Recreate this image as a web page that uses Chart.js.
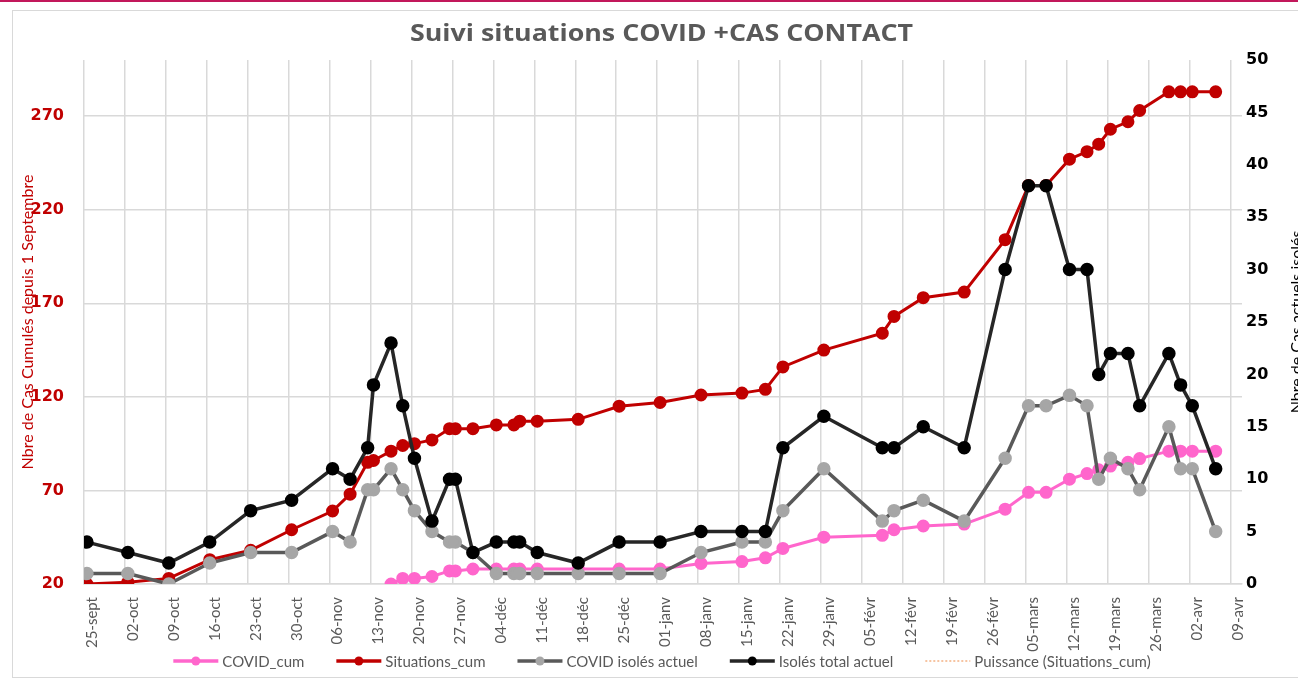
<!DOCTYPE html>
<html>
<head>
<meta charset="utf-8">
<script src="https://cdn.jsdelivr.net/npm/chart.js@4.4.0/dist/chart.umd.min.js"></script>
<style>
    html, body { margin: 0; padding: 0; background: #fff; }
    canvas { display: block; }
</style>
</head>
<body>
<canvas id="myChart" width="1298" height="680"></canvas>
<script>
// relevés (dates communes à toutes les séries)
const dates = [
    '2020-09-25', '2020-10-02', '2020-10-09', '2020-10-16', '2020-10-23', '2020-10-30',
    '2020-11-06', '2020-11-09', '2020-11-12', '2020-11-13', '2020-11-16', '2020-11-18',
    '2020-11-20', '2020-11-23', '2020-11-26', '2020-11-27', '2020-11-30', '2020-12-04',
    '2020-12-07', '2020-12-08', '2020-12-11', '2020-12-18', '2020-12-25', '2021-01-01',
    '2021-01-08', '2021-01-15', '2021-01-19', '2021-01-22', '2021-01-29', '2021-02-08',
    '2021-02-10', '2021-02-15', '2021-02-22', '2021-03-01', '2021-03-05', '2021-03-08',
    '2021-03-12', '2021-03-15', '2021-03-17', '2021-03-19', '2021-03-22', '2021-03-24',
    '2021-03-29', '2021-03-31', '2021-04-02', '2021-04-06'
];

const tickLabels = [
    '25-sept', '02-oct', '09-oct', '16-oct', '23-oct', '30-oct', '06-nov', '13-nov',
    '20-nov', '27-nov', '04-déc', '11-déc', '18-déc', '25-déc', '01-janv', '08-janv',
    '15-janv', '22-janv', '29-janv', '05-févr', '12-févr', '19-févr', '26-févr',
    '05-mars', '12-mars', '19-mars', '26-mars', '02-avr', '09-avr'
];
const leftTicks = [20, 70, 120, 170, 220, 270];
const rightTicks = [0, 5, 10, 15, 20, 25, 30, 35, 40, 45, 50];

const covidCum = [
    null, null, null, null, null, null, null, null, null, null, 20, 23,
    23, 24, 27, 27, 28, 28, 28, 28, 28, 28, 28, 28,
    31, 32, 34, 39, 45, 46, 49, 51, 52, 60, 69, 69,
    76, 79, 81, 83, 85, 87, 91, 91, 91, 91
];
const situationsCum = [
    20, 21, 23, 33, 38, 49, 59, 68, 85, 86, 91, 94,
    95, 97, 103, 103, 103, 105, 105, 107, 107, 108, 115, 117,
    121, 122, 124, 136, 145, 154, 163, 173, 176, 204, 233, 233,
    247, 251, 255, 263, 267, 273, 283, 283, 283, 283
];
const covidIsoles = [
    1, 1, 0, 2, 3, 3, 5, 4, 9, 9, 11, 9,
    7, 5, 4, 4, 3, 1, 1, 1, 1, 1, 1, 1,
    3, 4, 4, 7, 11, 6, 7, 8, 6, 12, 17, 17,
    18, 17, 10, 12, 11, 9, 15, 11, 11, 5
];
const isolesTotal = [
    4, 3, 2, 4, 7, 8, 11, 10, 13, 19, 23, 17,
    12, 6, 10, 10, 3, 4, 4, 4, 3, 2, 4, 4,
    5, 5, 5, 13, 16, 13, 13, 15, 13, 30, 38, 38,
    30, 30, 20, 22, 22, 17, 22, 19, 17, 11
];

const start = Date.UTC(2020, 8, 25);
// jour depuis le 25-sept, point placé au milieu du jour (comme l'axe date d'Excel)
function dayOf(s) {
    let p = s.split('-');
    return (Date.UTC(+p[0], +p[1] - 1, +p[2]) - start) / 86400000 + 0.5;
}
function pts(values) {
    return dates.map((d, i) => ({ x: dayOf(d), y: values[i] }));
}

const framePlugin = {
    id: 'frame',
    beforeDraw(chart) {
        let ctx = chart.ctx;
        ctx.save();
        ctx.fillStyle = '#fff';
        ctx.fillRect(0, 0, chart.width, chart.height);
        ctx.fillStyle = '#c2185b';
        ctx.fillRect(0, 0, chart.width, 2);
        ctx.strokeStyle = '#d9d9d9';
        ctx.lineWidth = 1;
        ctx.strokeRect(12.5, 10.5, chart.width, chart.height - 13);
        ctx.restore();
    },
    afterDraw(chart) {
        let ctx = chart.ctx;
        ctx.save();
        // titre
        ctx.font = 'bold 23px "Open Sans"';
        ctx.fillStyle = '#595959';
        ctx.textAlign = 'center';
        ctx.textBaseline = 'middle';
        let title = 'Suivi situations COVID +CAS CONTACT';
        let sx = 503 / ctx.measureText(title).width;
        ctx.translate(661.5, 34);
        ctx.scale(sx, 1);
        ctx.fillText(title, 0, 0);
        ctx.restore();

        // titre axe droit (coupé par le bord)
        ctx.save();
        ctx.font = '16px Lato';
        ctx.fillStyle = '#000';
        ctx.textAlign = 'center';
        ctx.textBaseline = 'alphabetic';
        ctx.translate(1302, 322);
        ctx.rotate(-Math.PI / 2);
        ctx.fillText('Nbre de Cas actuels isolés', 0, 0);
        ctx.restore();

        // légende
        ctx.save();
        ctx.font = '15px Lato';
        ctx.textBaseline = 'middle';
        ctx.textAlign = 'left';
        let items = chart.data.datasets.map(ds => ({ ds: ds, w: 49 + ctx.measureText(ds.label).width }));
        let gap = 32;
        let total = items.reduce((a, it) => a + it.w, 0) + gap * (items.length - 1);
        let x = 662 - total / 2;
        let y = 661;
        items.forEach(it => {
            let ds = it.ds;
            ctx.strokeStyle = ds.borderColor;
            ctx.lineWidth = ds.borderDash ? 1.5 : 3.5;
            ctx.setLineDash(ds.borderDash || []);
            ctx.beginPath();
            ctx.moveTo(x, y);
            ctx.lineTo(x + 45, y);
            ctx.stroke();
            ctx.setLineDash([]);
            if (!ds.borderDash) {
                ctx.fillStyle = ds.pointBackgroundColor;
                ctx.beginPath();
                ctx.arc(x + 22.5, y, 4.5, 0, Math.PI * 2);
                ctx.fill();
            }
            ctx.fillStyle = '#595959';
            ctx.fillText(ds.label, x + 49, y + 1);
            x += it.w + gap;
        });
        ctx.restore();
    }
};

(function () {
    let ctx = document.getElementById('myChart').getContext('2d');
    let datas = {
        datasets: [{
            label: 'COVID_cum',
            data: pts(covidCum),
            yAxisID: 'y',
            borderColor: '#ff66cc',
            pointBackgroundColor: '#ff66cc',
            pointBorderColor: '#ff66cc',
            borderWidth: 3,
            order: 4
        }, {
            label: 'Situations_cum',
            data: pts(situationsCum),
            yAxisID: 'y',
            borderColor: '#c00000',
            pointBackgroundColor: '#c00000',
            pointBorderColor: '#c00000',
            borderWidth: 3,
            order: 3
        }, {
            label: 'COVID isolés actuel',
            data: pts(covidIsoles),
            yAxisID: 'y1',
            borderColor: '#595959',
            pointBackgroundColor: '#a6a6a6',
            pointBorderColor: '#a6a6a6',
            borderWidth: 3.5,
            order: 2
        }, {
            label: 'Isolés total actuel',
            data: pts(isolesTotal),
            yAxisID: 'y1',
            borderColor: '#262626',
            pointBackgroundColor: '#000',
            pointBorderColor: '#000',
            borderWidth: 3.5,
            order: 1
        }, {
            label: 'Puissance (Situations_cum)',
            data: [],
            yAxisID: 'y',
            borderColor: '#f4b183',
            borderDash: [2, 2],
            borderWidth: 1.5,
            order: 5
        }]
    };

    let option = {
        responsive: false,
        animation: false,
        layout: { padding: { top: 60, left: 0, right: 0, bottom: 0 } },
        elements: {
            line: { tension: 0 },
            point: { radius: 5, borderWidth: 0, hoverRadius: 5 }
        },
        plugins: {
            legend: { display: false },
            title: { display: false },
            tooltip: { enabled: false }
        },
        scales: {
            x: {
                type: 'linear',
                min: 0,
                max: 198,
                ticks: {
                    stepSize: 7,
                    includeBounds: false,
                    autoSkip: false,
                    minRotation: 90,
                    maxRotation: 90,
                    labelOffset: 8,
                    padding: 13,
                    color: '#595959',
                    font: { family: 'Lato', size: 15 },
                    callback: v => tickLabels[Math.round(v / 7)]
                },
                grid: { color: '#d9d9d9', lineWidth: 1.5, drawTicks: false },
                border: { color: '#d9d9d9', width: 1.5 },
                afterFit: s => { s.height = 96; }
            },
            y: {
                position: 'left',
                min: 20,
                max: 300,
                afterBuildTicks: s => { s.ticks = leftTicks.map(v => ({ value: v })); },
                ticks: {
                    padding: 20,
                    color: '#c00000',
                    font: { family: 'DejaVu Sans', weight: 'bold', size: 16 }
                },
                grid: { color: '#d9d9d9', lineWidth: 1.5, drawTicks: false },
                border: { display: false },
                title: {
                    display: true,
                    text: 'Nbre de Cas Cumulés depuis 1 Septembre',
                    color: '#c00000',
                    font: { family: 'Lato', size: 16 },
                    padding: { top: 18, bottom: 0 }
                },
                afterFit: s => { s.width = 84; }
            },
            y1: {
                position: 'right',
                min: 0,
                max: 50,
                afterBuildTicks: s => { s.ticks = rightTicks.map(v => ({ value: v })); },
                ticks: {
                    padding: 4,
                    color: '#000',
                    font: { family: 'DejaVu Sans', weight: 'bold', size: 16 }
                },
                grid: { display: false, drawTicks: false },
                border: { display: false },
                afterFit: s => { s.width = 56; }
            }
        }
    };

    let myChart = new Chart(ctx, {
        type: 'line',
        data: datas,
        options: option,
        plugins: [framePlugin]
    });
})();
</script>
</body>
</html>
